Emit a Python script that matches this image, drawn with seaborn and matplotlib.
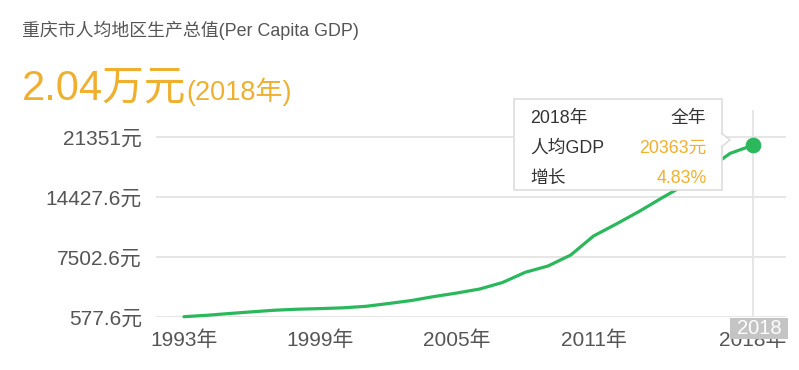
import matplotlib
matplotlib.use("Agg")
import matplotlib.pyplot as plt
from matplotlib.patches import Rectangle, Polygon
import seaborn as sns

# 数据
years = list(range(1993, 2019))
gdp = [578, 740, 947, 1143, 1328, 1443, 1512, 1604, 1778, 2101,
       2447, 2909, 3313, 3774, 4524, 5702, 6429, 7699, 9891, 11276,
       12719, 14277, 15778, 17508, 19425, 20363]
growth_2018 = 4.83
y_ticks = [577.6, 7502.6, 14427.6, 21351]
y_tick_labels = ["577.6元", "7502.6元", "14427.6元", "21351元"]
x_ticks = [1993, 1999, 2005, 2011, 2018]
x_tick_labels = [f"{y}年" for y in x_ticks]

W, H = 799, 370
GREEN = "#2bb85c"
ORANGE = "#efb030"
GREY_TXT = "#555555"
GRID = "#e4e4e4"


def px(x, y):
    """像素坐标 -> figure 坐标"""
    return x / W, 1 - y / H


sns.set_theme(style="white")
plt.rcParams["font.family"] = ["Liberation Sans", "Noto Sans CJK SC", "DejaVu Sans"]

fig = plt.figure(figsize=(W / 100, H / 100), dpi=100)
ax = fig.add_axes([156 / W, 1 - 316.7 / H, 630 / W, (316.7 - 110) / H])

sns.lineplot(x=years, y=gdp, color=GREEN, linewidth=2.3, ax=ax, clip_on=False)
sns.scatterplot(x=years[-1:], y=gdp[-1:], color=GREEN, s=110, edgecolor=GREEN,
                ax=ax, zorder=5, clip_on=False)

ax.set_xlim(1991.77, 2019.46)
ax.set_ylim(577.6, 24433)
ax.set_yticks(y_ticks)
ax.set_yticklabels(y_tick_labels)
ax.set_xticks(x_ticks)
ax.set_xticklabels(x_tick_labels)
ax.tick_params(axis="y", length=0, pad=10, labelsize=15, labelcolor=GREY_TXT)
ax.tick_params(axis="x", length=0, pad=10, labelsize=15, labelcolor=GREY_TXT)
ax.yaxis.grid(True, color=GRID, linewidth=1.3)
ax.xaxis.grid(False)
ax.set_axisbelow(True)
for s in ax.spines.values():
    s.set_visible(False)
ax.axvline(years[-1], color=GRID, linewidth=1.3, zorder=0)
ax.set_xlabel("")
ax.set_ylabel("")

# 标题
fig.text(*px(22, 36), "重庆市人均地区生产总值(Per Capita GDP)", fontsize=12.9,
         color=GREY_TXT, va="baseline", ha="left")
big = fig.text(*px(22, 99.5), f"{gdp[-1] / 10000:.2f}万元", fontsize=30,
               color=ORANGE, va="baseline", ha="left")
fig.canvas.draw()
bb = big.get_window_extent(renderer=fig.canvas.get_renderer())
fig.text(bb.x1 / W, 1 - 99.5 / H, f"({years[-1]}年)", fontsize=19.5,
         color=ORANGE, va="baseline", ha="left")

# 提示框
x0, y0, x1, y1 = 514, 99, 722, 190
fig.patches.append(Rectangle(px(x0, y1), (x1 - x0) / W, (y1 - y0) / H,
                             transform=fig.transFigure, facecolor="white",
                             edgecolor="#dddddd", linewidth=1.2, zorder=10))
fig.patches.append(Polygon([px(x1 - 0.8, 133), px(730, 140), px(x1 - 0.8, 147)],
                           closed=False, transform=fig.transFigure,
                           facecolor="white", edgecolor="#dddddd",
                           linewidth=1.2, zorder=11))
rows = [(f"{years[-1]}年", "全年", "#333333"),
        ("人均GDP", f"{gdp[-1]}元", ORANGE),
        ("增长", f"{growth_2018:.2f}%", ORANGE)]
for i, (left, right, rc) in enumerate(rows):
    yb = 122.5 + i * 30.2
    fig.text(*px(530, yb), left, fontsize=12.8, color="#333333",
             va="baseline", ha="left", zorder=12)
    fig.text(*px(706.5, yb), right, fontsize=12.8, color=rc,
             va="baseline", ha="right", zorder=12)

# 右下角年份标签（与参考图一样压在最后一个刻度标签上）
fig.patches.append(Rectangle(px(730, 339), 58 / W, 21 / H,
                             transform=fig.transFigure, facecolor="#c4c4c4",
                             edgecolor="none", zorder=10))
fig.text(*px(759, 329), str(years[-1]), fontsize=14.5, color="white",
         va="center", ha="center", zorder=12)

fig.savefig("out.png", dpi=100)
